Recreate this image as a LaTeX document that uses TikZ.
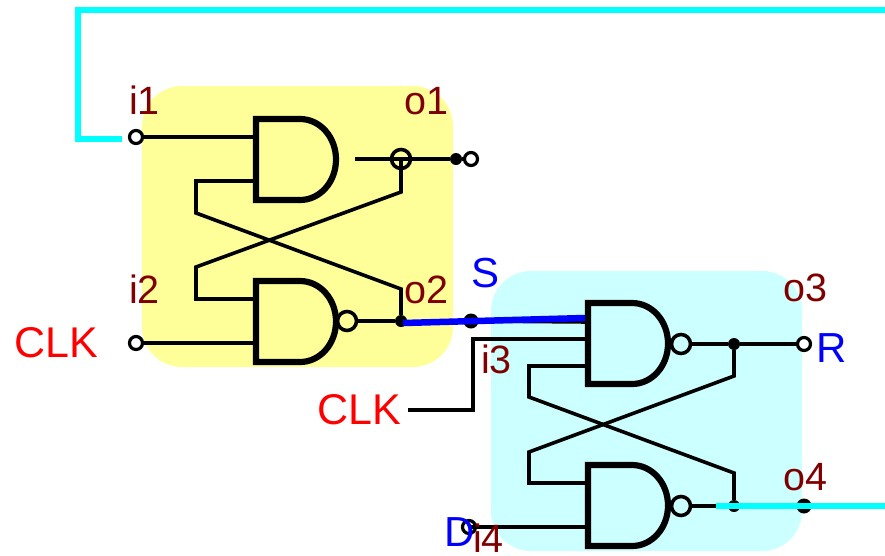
\documentclass[tikz,border=0pt]{standalone}
\usepackage{fontspec}
\setmainfont{Liberation Sans}
\definecolor{lbl}{HTML}{800000}
\definecolor{ybox}{HTML}{FFFF99}
\definecolor{cbox}{HTML}{CCFFFF}
\definecolor{fb}{HTML}{00FFFF}
\definecolor{sblue}{HTML}{0000FF}
\definecolor{txtred}{HTML}{FF0000}
\tikzset{
  wire/.style={draw=black,line width=3.6pt,line join=miter},
  gatebody/.style={draw=black,line width=6.2pt,line join=miter},
  terminal/.style={circle,draw=black,line width=3.2pt,fill=white,minimum size=13pt,inner sep=0pt},
  openterm/.style={circle,draw=black,line width=3.2pt,minimum size=13pt,inner sep=0pt},
  solderdot/.style={circle,fill=black,minimum size=12pt,inner sep=0pt},
  bigdot/.style={circle,fill=black,minimum size=15pt,inner sep=0pt},
  bubble/.style={circle,draw=black,line width=3.6pt,minimum size=19pt,inner sep=0pt},
  pinlbl/.style={text=lbl,font=\fontsize{39.5}{41}\selectfont,anchor=base west,inner sep=0pt},
  siglbl/.style={text=sblue,font=\fontsize{42}{44}\selectfont,anchor=base west,inner sep=0pt},
  clklbl/.style={text=txtred,font=\fontsize{43}{45}\selectfont,anchor=base west,inner sep=0pt},
  regionbox/.style={rounded corners=40pt},
  feedback/.style={draw=fb,line width=6.5pt,line join=miter},
  sline/.style={draw=sblue,line width=6.5pt}
}
\newcommand{\andbody}[2]{%
  \draw[gatebody,fill=none,shift={(#1,#2)}] (0,0) -- (44,0)
     .. controls (64,0) and (80,18) .. (80,40.5)
     .. controls (80,63) and (64,81) .. (44,81) -- (0,81) -- cycle;}
\begin{document}
\begin{tikzpicture}[x=1pt,y=-1pt]
\useasboundingbox (0,0) rectangle (885,555);
% regions
\fill[ybox,regionbox] (142,86) rectangle (453,367);
\fill[cbox,regionbox] (491,271) rectangle (802,551);

% named points
\coordinate (g1a) at (256,137);
\coordinate (g1b) at (256,181);
\coordinate (g1out) at (355,159);
\coordinate (g2a) at (256,299);
\coordinate (g2b) at (256,343);
\coordinate (c1) at (196,181);
\coordinate (c2) at (196,213);
\coordinate (c3) at (401,289);
\coordinate (c4) at (401,192);
\coordinate (c5) at (196,267);
\coordinate (c6) at (196,299);
\coordinate (g3a) at (588,322);
\coordinate (g3as) at (585,318);
\coordinate (g3b) at (588,339);
\coordinate (g3c) at (588,366);
\coordinate (g4a) at (588,483);
\coordinate (g4b) at (588,527);
\coordinate (d1) at (529,366);
\coordinate (d2) at (529,397);
\coordinate (d3) at (734,473);
\coordinate (d4) at (734,376);
\coordinate (d5) at (529,452);
\coordinate (d6) at (529,483);
\coordinate (e1) at (473,339);
\coordinate (e2) at (473,410);
\coordinate (e3) at (408,410);
\coordinate (fbr) at (885,10);
\coordinate (fbl) at (78,10);
\coordinate (fbd) at (78,139);
\coordinate (fbe) at (122,139);
\coordinate (cyr) at (885,506);
\coordinate (cyl) at (716,506);
\coordinate (blue0) at (403,323);

% junctions and pins
\node[terminal] (t1) at (136,137) {};
\node[terminal] (t2) at (136,343) {};
\node[bubble] (o1b) at (401,159) {};
\node[terminal] (t3) at (471,159) {};
\node[solderdot] (j1) at (456,159) {};
\node[solderdot] (j2) at (401,321) {};
\node[bigdot] (j3) at (471,321) {};
\node[bubble,fill=ybox] (b2) at (347,321) {};
\node[bubble,fill=cbox] (b3) at (681,344) {};
\node[bubble,fill=cbox] (b4) at (681,506) {};
\node[solderdot] (j4) at (734,344) {};
\node[terminal] (t4) at (804,344) {};
\node[solderdot] (j5) at (734,506) {};
\node[bigdot] (j6) at (804,506) {};
\node[openterm] (t5) at (469,527) {};

% wires of the upper latch
\draw[wire] (t1) -- (g1a);
\draw[wire] (t2) -- (g2b);
\draw[wire] (g1b) -- (c1) -- (c2) -- (c3) -- (j2);
\draw[wire] (g2a) -- (c6) -- (c5) -- (c4) -- (o1b.center);
\draw[wire] (g1out) -- (j1) -- (t3);
\draw[wire] (b2) -- (j2);

% wires of the lower latch
\draw[wire] (j3) -- (g3a);
\draw[wire] (g3b) -- (e1) -- (e2) -- (e3);
\draw[wire] (g3c) -- (d1) -- (d2) -- (d3) -- (j5);
\draw[wire] (g4a) -- (d6) -- (d5) -- (d4) -- (j4);
\draw[wire] (b3) -- (j4) -- (t4);
\draw[wire] (b4) -- (j5);
\draw[wire] (t5.center) -- (g4b);

% gates
\andbody{256}{119}
\andbody{256}{281}
\andbody{588}{303}
\andbody{588}{465}

% coloured lines
\draw[sline] (blue0) -- (g3as);
\draw[feedback] (fbr) -- (fbl) -- (fbd) -- (fbe);
\draw[feedback] (cyl) -- (cyr);

% labels
\node[pinlbl] (li1) at (129,114) {i1};
\node[pinlbl] (lo1) at (404,114) {o1};
\node[pinlbl] (li2) at (129,303) {i2};
\node[pinlbl] (lo2) at (404,303) {o2};
\node[pinlbl] (li3) at (481,373) {i3};
\node[pinlbl] (lo3) at (783,301) {o3};
\node[pinlbl] (lo4) at (783,490) {o4};
\node[siglbl] (ls) at (471,287) {S};
\node[siglbl] (lr) at (816,362) {R};
\node[siglbl] (ld) at (444,546) {D};
\node[pinlbl] (li4) at (473,552) {i4};
\node[clklbl] (lc1) at (14,357) {CLK};
\node[clklbl] (lc2) at (317,424) {CLK};
\end{tikzpicture}
\end{document}
